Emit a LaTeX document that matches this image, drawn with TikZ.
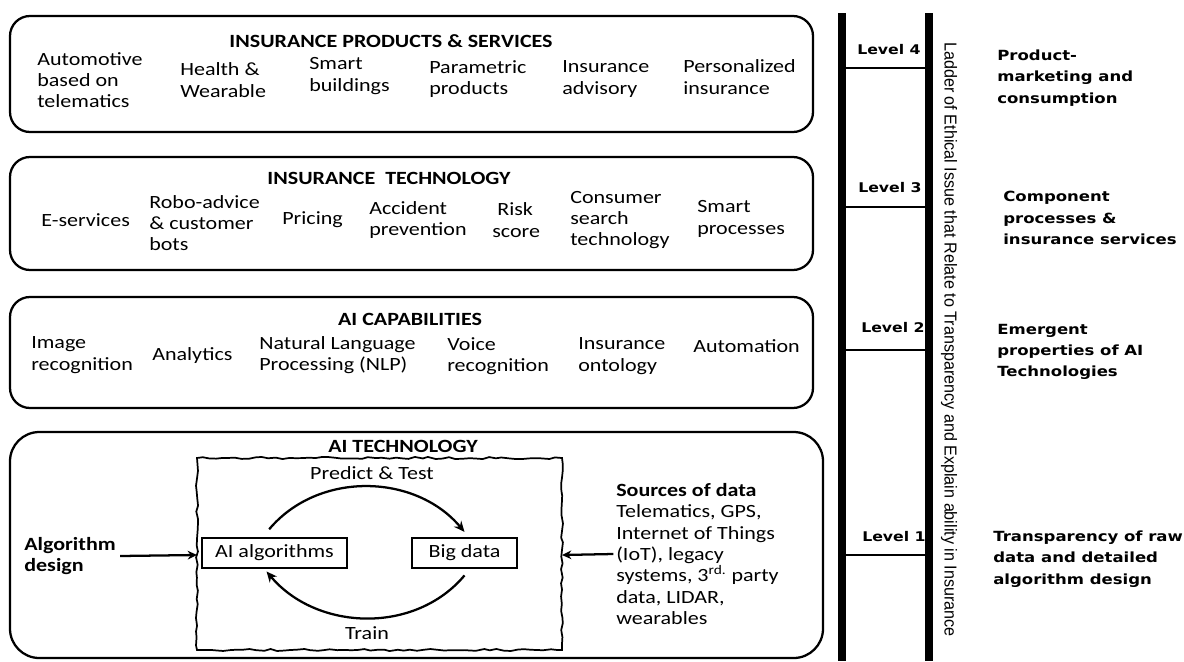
\documentclass[tikz,border=0pt]{standalone}
\usepackage{fontspec}
\setmainfont{Carlito}
\newfontfamily\verdfont{DejaVu Sans}
\newfontfamily\narrowfont{Liberation Sans}
\usetikzlibrary{arrows.meta,decorations.pathmorphing}
\tikzset{
  panel/.style={draw=black, line width=1.7pt, rounded corners=15pt},
  ptitle/.style={font=\fontsize{14}{16}\selectfont\bfseries, xscale=1.18, inner sep=0pt},
  item/.style={font=\fontsize{14}{16}\selectfont, xscale=1.18, align=left, anchor=west, inner sep=0pt},
  itemb/.style={item, font=\fontsize{14}{16}\selectfont\bfseries},
  lbox/.style={draw=black, line width=1.1pt, font=\fontsize{14}{16}\selectfont, xscale=1.18,
    minimum height=22.5pt, inner sep=0pt},
  sketch/.style={draw=black, line width=1.3pt, decorate,
    decoration={random steps, segment length=5pt, amplitude=0.8pt}},
  flow/.style={-{Stealth[length=8pt,width=7pt]}, line width=1.7pt},
  feed/.style={-{Stealth[length=7pt,width=6.5pt]}, line width=1.7pt},
  rail/.style={line width=5.8pt},
  rung/.style={line width=1.1pt},
  lvl/.style={font=\verdfont\bfseries\fontsize{10}{12}\selectfont, xscale=1.18, anchor=east, inner sep=0pt},
  desc/.style={font=\verdfont\bfseries\fontsize{10.5}{16}\selectfont, xscale=1.18, align=left,
    anchor=west, inner sep=0pt}
}

\begin{document}
\begin{tikzpicture}[x=0.75pt,y=-0.75pt]
  \useasboundingbox (0,0) rectangle (1184,661);
  \pgfmathsetseed{12}

  % products and services
  \draw[panel] (10,16) rectangle (813,132);
  \node[ptitle] (prodtitle) at (391,41) {INSURANCE PRODUCTS \& SERVICES};
  \node[item] (auto) at (37,80) {Automotive\\based on\\telematics};
  \node[item] (health) at (180,80) {Health \&\\Wearable};
  \node[item] (smartb) at (309,76) {Smart\\buildings};
  \node[item] (param) at (429,79) {Parametric\\products};
  \node[item] (advis) at (562,79) {Insurance\\advisory};
  \node[item] (person) at (683,77) {Personalized\\insurance};

  % insurance technology
  \draw[panel] (10,157) rectangle (813,270);
  \node[ptitle] (techtitle) at (389,178) {INSURANCE\ \ TECHNOLOGY};
  \node[item] (eserv) at (41,220) {E-services};
  \node[item] (robo) at (149,223) {Robo-advice\\\& customer\\bots};
  \node[item] (pricing) at (282,220) {Pricing};
  \node[item] (accid) at (369,220) {Accident\\prevention};
  \node[item] (risk) at (492,220) {\ Risk\\score};
  \node[item] (consum) at (570,220) {Consumer\\search\\technology};
  \node[item] (smartp) at (697,219) {Smart\\processes};

  % ai capabilities
  \draw[panel] (10,297) rectangle (813,408);
  \node[ptitle] (captitle) at (410,319) {AI CAPABILITIES};
  \node[item] (image) at (31,355) {Image\\recognition};
  \node[item] (analyt) at (152,356) {Analytics};
  \node[item] (nlp) at (259,355) {Natural Language\\Processing (NLP)};
  \node[item] (voice) at (447,356) {Voice\\recognition};
  \node[item] (onto) at (578,356) {Insurance\\ontology};
  \node[item] (autom) at (693,346) {Automation};

  % ai technology
  \draw[panel, rounded corners=22pt] (10,432) rectangle (823,658);
  \node[ptitle] (aititle) at (403,446) {AI TECHNOLOGY};
  \draw[sketch] (197,458) rectangle (562,650);
  \coordinate (frameL) at (197,555);
  \coordinate (frameR) at (562,555);
  \node[lbox, minimum width=92pt] (algo) at (274.5,553) {AI algorithms};
  \node[lbox, minimum width=66.7pt] (big) at (464.5,553) {Big data};
  \node[item, anchor=center] (predict) at (372,473) {Predict \& Test};
  \node[item, anchor=center] (train) at (367,633) {Train};
  \draw[flow] ([xshift=-4pt,yshift=6pt]algo.north) to[out=50,in=130] ([yshift=4pt]big.north);
  \draw[flow] ([yshift=-5pt]big.south) to[out=-130,in=-50] ([xshift=-6pt,yshift=-2pt]algo.south);
  \node[itemb] (algdes) at (24,556) {Algorithm\\design};
  \draw[feed] ([xshift=3pt]algdes.east) -- (frameL);
  \node[item] (src) at (616,554) {\textbf{Sources of data}\\Telematics, GPS,\\Internet of Things\\(IoT), legacy\\systems, 3\textsuperscript{rd.} party\\data, LIDAR,\\wearables};
  \draw[feed] ([xshift=-2pt]src.west) -- (frameR);

  % ladder
  \draw[rail] (842,13) -- (842,661);
  \draw[rail] (929,13) -- (929,661);
  \foreach \y in {68,207,350,555}
    \draw[rung] (842,\y) -- (929,\y);
  \node[lvl] (lv4) at (921,50) {Level 4};
  \node[lvl] (lv3) at (922,188) {Level 3};
  \node[lvl] (lv2) at (925,328) {Level 2};
  \node[lvl] (lv1) at (926,537) {Level 1};
  \node[rotate=-90, inner sep=0pt] (ladder) at (949,339.5)
    {\resizebox{446pt}{9.4pt}{\narrowfont Ladder of Ethical Issue that Relate to Transparency and Explain ability in Insurance}};

  \node[desc] (d4) at (997,78) {Product-\\marketing and\\consumption};
  \node[desc] (d3) at (1003,218) {Component\\processes \&\\insurance services};
  \node[desc] (d2) at (997,352) {Emergent\\properties of AI\\Technologies};
  \node[desc] (d1) at (993,559) {Transparency of raw\\data and detailed\\algorithm design};
\end{tikzpicture}
\end{document}
